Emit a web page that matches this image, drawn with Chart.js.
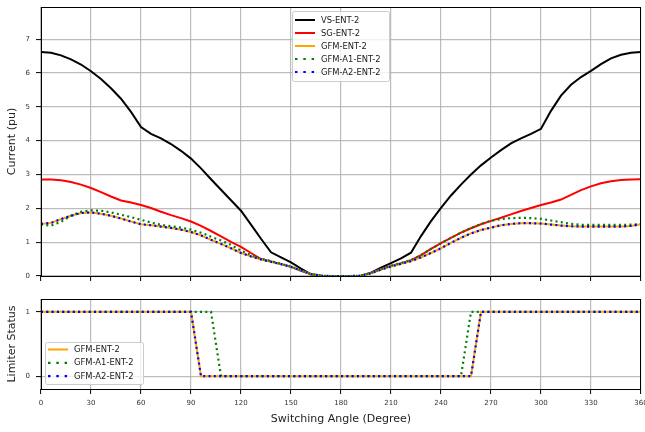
<!DOCTYPE html>
<html>
<head>
<meta charset="utf-8">
<title>Current and limiter status vs switching angle</title>
<script src="https://cdn.jsdelivr.net/npm/chart.js@4.4.1/dist/chart.umd.min.js"></script>
<style>
  body { margin: 0; background: #fff; }
  #wrap { position: relative; width: 645px; height: 432px; }
  #wrap canvas { position: absolute; left: 0; }
  #current { top: 0; }
  #limiter { top: 290px; }
</style>
</head>
<body>
<div id="wrap">
  <canvas id="current" width="645" height="290"></canvas>
  <canvas id="limiter" width="645" height="142"></canvas>
</div>
<script>
// switching angle, degrees
const angles = [0, 6, 12, 18, 24, 30, 36, 42, 48, 54, 60, 66, 72, 78, 84, 90, 96, 102, 108, 114,
  120, 126, 132, 138, 144, 150, 156, 162, 168, 174, 180, 186, 192, 198, 204, 210, 216, 222, 228, 234,
  240, 246, 252, 258, 264, 270, 276, 282, 288, 294, 300, 306, 312, 318, 324, 330, 336, 342, 348, 354, 360];

const xTicks = [0, 30, 60, 90, 120, 150, 180, 210, 240, 270, 300, 330, 360];
const currentTicks = [0, 1, 2, 3, 4, 5, 6, 7];
const statusTicks = [0, 1];

// current magnitude (pu)
const vsEnt2 = [6.62, 6.60, 6.52, 6.40, 6.25, 6.05, 5.82, 5.55, 5.24, 4.85, 4.40, 4.20, 4.07, 3.90, 3.70, 3.47, 3.18, 2.86, 2.55, 2.24,
  1.93, 1.52, 1.10, 0.70, 0.55, 0.40, 0.22, 0.05, 0.01, 0, 0, 0, 0.01, 0.10, 0.25, 0.38, 0.52, 0.69, 1.18, 1.62,
  2.01, 2.38, 2.70, 3.00, 3.27, 3.50, 3.72, 3.92, 4.07, 4.20, 4.35, 4.88, 5.33, 5.65, 5.88, 6.06, 6.26, 6.43, 6.54, 6.60, 6.62];

const sgEnt2 = [2.85, 2.85, 2.83, 2.78, 2.70, 2.60, 2.48, 2.35, 2.23, 2.17, 2.10, 2.01, 1.90, 1.80, 1.71, 1.61, 1.48, 1.33, 1.17, 1.01,
  0.86, 0.68, 0.50, 0.43, 0.35, 0.27, 0.15, 0.05, 0.01, 0, 0, 0, 0.01, 0.09, 0.20, 0.30, 0.38, 0.47, 0.62, 0.80,
  0.97, 1.13, 1.28, 1.41, 1.53, 1.63, 1.72, 1.82, 1.92, 2.01, 2.10, 2.17, 2.26, 2.40, 2.54, 2.65, 2.74, 2.80, 2.84, 2.85, 2.86];

const gfmEnt2 = [1.54, 1.57, 1.68, 1.78, 1.86, 1.88, 1.84, 1.78, 1.70, 1.61, 1.53, 1.50, 1.46, 1.42, 1.37, 1.30, 1.20, 1.07, 0.95, 0.82,
  0.68, 0.58, 0.49, 0.42, 0.35, 0.27, 0.16, 0.06, 0.01, 0, 0, 0, 0.01, 0.08, 0.19, 0.28, 0.36, 0.44, 0.55, 0.68,
  0.82, 0.98, 1.13, 1.26, 1.36, 1.43, 1.50, 1.54, 1.56, 1.56, 1.55, 1.52, 1.49, 1.47, 1.46, 1.46, 1.46, 1.46, 1.46, 1.48, 1.53];

const gfmA1Ent2 = [1.52, 1.49, 1.60, 1.78, 1.90, 1.94, 1.93, 1.88, 1.81, 1.74, 1.66, 1.58, 1.51, 1.47, 1.43, 1.37, 1.28, 1.16, 1.05, 0.92,
  0.75, 0.62, 0.51, 0.44, 0.36, 0.28, 0.16, 0.06, 0.01, 0, 0, 0, 0.01, 0.09, 0.20, 0.30, 0.38, 0.47, 0.62, 0.80,
  0.97, 1.13, 1.28, 1.42, 1.54, 1.63, 1.68, 1.71, 1.72, 1.71, 1.69, 1.64, 1.59, 1.54, 1.51, 1.51, 1.51, 1.51, 1.51, 1.52, 1.53];

const gfmA2Ent2 = [1.54, 1.57, 1.68, 1.78, 1.86, 1.88, 1.84, 1.78, 1.70, 1.61, 1.53, 1.50, 1.46, 1.42, 1.37, 1.30, 1.20, 1.07, 0.95, 0.82,
  0.68, 0.58, 0.49, 0.42, 0.35, 0.27, 0.16, 0.06, 0.01, 0, 0, 0, 0.01, 0.08, 0.19, 0.28, 0.36, 0.44, 0.55, 0.68,
  0.82, 0.98, 1.13, 1.26, 1.36, 1.43, 1.50, 1.54, 1.56, 1.56, 1.55, 1.52, 1.49, 1.47, 1.46, 1.46, 1.46, 1.46, 1.46, 1.48, 1.53];

// current limiter active (1) / inactive (0)
const gfmStatus = [1, 1, 1, 1, 1, 1, 1, 1, 1, 1, 1, 1, 1, 1, 1, 1, 0, 0, 0, 0,
  0, 0, 0, 0, 0, 0, 0, 0, 0, 0, 0, 0, 0, 0, 0, 0, 0, 0, 0, 0,
  0, 0, 0, 0, 1, 1, 1, 1, 1, 1, 1, 1, 1, 1, 1, 1, 1, 1, 1, 1, 1];

const gfmA1Status = [1, 1, 1, 1, 1, 1, 1, 1, 1, 1, 1, 1, 1, 1, 1, 1, 1, 1, 0, 0,
  0, 0, 0, 0, 0, 0, 0, 0, 0, 0, 0, 0, 0, 0, 0, 0, 0, 0, 0, 0,
  0, 0, 0, 1, 1, 1, 1, 1, 1, 1, 1, 1, 1, 1, 1, 1, 1, 1, 1, 1, 1];

const gfmA2Status = [1, 1, 1, 1, 1, 1, 1, 1, 1, 1, 1, 1, 1, 1, 1, 1, 0, 0, 0, 0,
  0, 0, 0, 0, 0, 0, 0, 0, 0, 0, 0, 0, 0, 0, 0, 0, 0, 0, 0, 0,
  0, 0, 0, 0, 1, 1, 1, 1, 1, 1, 1, 1, 1, 1, 1, 1, 1, 1, 1, 1, 1];

const FONT = 'DejaVu Sans';
const gridColor = 'rgba(176,176,176,0.85)';
const dotted = [2, 3.3];

const pts = vals => angles.map((a, i) => ({ x: a, y: vals[i] }));

function line(label, vals, color, order, dash) {
  return {
    label: label,
    data: pts(vals),
    borderColor: color,
    backgroundColor: color,
    borderWidth: dash ? 2.2 : 2,
    borderDash: dash || [],
    borderCapStyle: 'butt',
    pointRadius: 0,
    tension: 0,
    order: order
  };
}

// black frame around the plot area (all four spines)
const frame = {
  id: 'frame',
  afterDatasetsDraw(chart) {
    const { ctx, chartArea: a } = chart;
    ctx.save();
    ctx.strokeStyle = '#000';
    ctx.lineWidth = 1;
    ctx.strokeRect(Math.round(a.left) + 0.5, Math.round(a.top) + 0.5,
      Math.round(a.right - a.left) - 1, Math.round(a.bottom - a.top));
    ctx.restore();
  }
};

// legend box drawn inside the axes
const boxLegend = {
  id: 'boxLegend',
  afterDraw(chart, args, opts) {
    const { ctx } = chart;
    ctx.save();
    ctx.fillStyle = 'rgba(255,255,255,0.8)';
    ctx.strokeStyle = '#cccccc';
    ctx.lineWidth = 1;
    ctx.beginPath();
    ctx.roundRect(opts.x + 0.5, opts.y + 0.5, opts.w, opts.h, 2);
    ctx.fill();
    ctx.stroke();
    ctx.font = '8.4px "' + FONT + '"';
    ctx.textBaseline = 'middle';
    chart.data.datasets.forEach((ds, i) => {
      const y = opts.y + opts.first + i * opts.step;
      ctx.strokeStyle = ds.borderColor;
      ctx.lineWidth = ds.borderWidth;
      ctx.setLineDash(ds.borderDash.length ? [2.5, 5.8] : []);
      ctx.beginPath();
      ctx.moveTo(opts.x + 3, y);
      ctx.lineTo(opts.x + 23, y);
      ctx.stroke();
      ctx.setLineDash([]);
      ctx.fillStyle = '#1a1a1a';
      ctx.fillText(ds.label, opts.x + 29, y + 0.5);
    });
    ctx.restore();
  }
};

function xScale(showLabels, height) {
  return {
    type: 'linear',
    min: 0,
    max: 360,
    afterBuildTicks: s => { s.ticks = xTicks.map(v => ({ value: v })); },
    ticks: { display: showLabels, font: { family: FONT, size: 7 }, color: '#333', padding: 5, maxRotation: 0 },
    grid: { color: gridColor, lineWidth: 1.2, tickColor: '#000', tickLength: 5, tickWidth: 1 },
    border: { display: false },
    title: {
      display: showLabels,
      text: 'Switching Angle (Degree)',
      font: { family: FONT, size: 11 },
      color: '#222',
      padding: { top: 0, bottom: 6.4 }
    },
    afterFit: s => { s.height = height; s.paddingLeft = 0; s.paddingRight = 0; }
  };
}

function yScale(title, min, max, tickVals) {
  return {
    min: min,
    max: max,
    afterBuildTicks: s => { s.ticks = tickVals.map(v => ({ value: v })); },
    ticks: { font: { family: FONT, size: 7 }, color: '#333', padding: 6 },
    grid: { color: gridColor, lineWidth: 1.2, tickColor: '#000', tickLength: 5, tickWidth: 1 },
    border: { display: false },
    title: {
      display: true,
      text: title,
      font: { family: FONT, size: 11 },
      color: '#222',
      padding: { top: 5.4, bottom: 0 }
    },
    afterFit: s => { s.width = 41; s.paddingTop = 0; s.paddingBottom = 0; }
  };
}

const common = {
  responsive: false,
  animation: false,
  devicePixelRatio: 1,
  events: []
};

new Chart(document.getElementById('current'), {
  type: 'line',
  data: {
    datasets: [
      line('VS-ENT-2', vsEnt2, '#000000', 5),
      line('SG-ENT-2', sgEnt2, '#ff0000', 4),
      line('GFM-ENT-2', gfmEnt2, '#ffa500', 3),
      line('GFM-A1-ENT-2', gfmA1Ent2, '#008000', 2, dotted),
      line('GFM-A2-ENT-2', gfmA2Ent2, '#0000ff', 1, dotted)
    ]
  },
  options: {
    ...common,
    layout: { padding: { top: 7, right: 4, left: 0, bottom: 0 } },
    plugins: {
      legend: { display: false },
      tooltip: { enabled: false },
      boxLegend: { x: 292, y: 11, w: 97, h: 70, first: 9, step: 13 }
    },
    scales: {
      x: xScale(false, 14),
      y: yScale('Current (pu)', 0, 7.95, currentTicks)
    }
  },
  plugins: [frame, boxLegend]
});

new Chart(document.getElementById('limiter'), {
  type: 'line',
  data: {
    datasets: [
      line('GFM-ENT-2', gfmStatus, '#ffa500', 3),
      line('GFM-A1-ENT-2', gfmA1Status, '#008000', 2, dotted),
      line('GFM-A2-ENT-2', gfmA2Status, '#0000ff', 1, dotted)
    ]
  },
  options: {
    ...common,
    layout: { padding: { top: 9, right: 4, left: 0, bottom: 0 } },
    plugins: {
      legend: { display: false },
      tooltip: { enabled: false },
      boxLegend: { x: 45, y: 52, w: 98, h: 42, first: 7.5, step: 13.3 }
    },
    scales: {
      x: xScale(true, 43),
      y: yScale('Limiter Status', -0.2, 1.2, statusTicks)
    }
  },
  plugins: [frame, boxLegend]
});
</script>
</body>
</html>
